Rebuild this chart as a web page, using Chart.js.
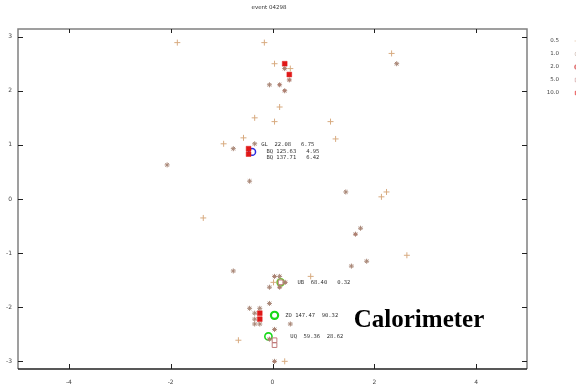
<!DOCTYPE html>
<html><head><meta charset="utf-8">
<script src="https://cdn.jsdelivr.net/npm/chart.js@4.4.1/dist/chart.umd.min.js"></script>
<style>html,body{margin:0;padding:0;background:#fff;}canvas{display:block;}</style>
</head><body>
<canvas id="c" width="576" height="385"></canvas>
<script>
// ---- data (eta / phi of calorimeter deposits, by energy threshold) ----
const title = "event 04298";
const legendLabels = ["0.5", "1.0", "2.0", "5.0", "10.0"];
const xTicks = [-4, -2, 0, 2, 4];
const yTicks = [-3, -2, -1, 0, 1, 2, 3];

const plusX = [-1.87,-0.16,0.04,0.35,0.14,-0.35,0.04,2.34,1.14,1.24,2.24,2.14,2.64,-0.96,-1.36,-0.57,-0.67,0.24,0.75,0.02];
const plusY = [2.89,2.89,2.50,2.41,1.70,1.50,1.43,2.69,1.43,1.11,0.13,0.04,-1.04,1.02,-0.35,1.13,-2.61,-3.00,-1.43,-1.54];

const starX = [0.24,0.33,-0.06,0.14,0.24,-0.77,-0.35,-0.45,-2.07,-0.77,2.44,1.44,1.73,1.63,1.85,1.55,0.04,0.14,0.25,-0.06,0.14,-0.06,-0.45,-0.25,-0.35,-0.35,-0.35,-0.25,0.35,0.04,-0.06,0.04];
const starY = [2.41,2.20,2.11,2.11,2.00,0.93,1.02,0.33,0.63,-1.33,2.50,0.13,-0.54,-0.65,-1.15,-1.24,-1.43,-1.43,-1.54,-1.63,-1.63,-1.93,-2.02,-2.02,-2.11,-2.22,-2.31,-2.31,-2.31,-2.41,-2.59,-3.00];

const twoX = [0.24,0.33,0.14,0.24,1.63,0.04,0.25,0.14,0.04,-0.06,0.04];
const twoY = [2.41,2.20,2.11,2.00,-0.65,-1.43,-1.54,-1.63,-2.41,-2.59,-3.00];

const fiveX = [0.04,0.04,0.16];
const fiveY = [-2.61,-2.70,-1.54];

const tenX = [0.24,0.33,-0.25,-0.25,-0.47,-0.47];
const tenY = [2.50,2.30,-2.11,-2.22,0.93,0.83];

const jetX = [0.04,-0.08,0.16];
const jetY = [-2.15,-2.54,-1.54];
const jetWidth = [2.2,1.6,1.6];

const muX = [-0.40];
const muY = [0.87];

const labelText = ["GL  22.08   6.75","BQ 125.63   4.95","BQ 137.71   6.42","UB  68.40   0.32","ZO 147.47  90.32","UQ  59.36  28.62"];
const labelX = [-0.22,-0.12,-0.12,0.49,0.25,0.35];
const labelY = [1.00,0.87,0.76,-1.54,-2.15,-2.54];

const caption = "Calorimeter";

// ---- build ----
const pts = (xs, ys) => xs.map((x, i) => ({x: x, y: ys[i]}));

const datasets = [
  {label: legendLabels[0], data: pts(plusX, plusY), pointStyle: 'cross', radius: 3, borderColor: '#d8ab80', borderWidth: 1, backgroundColor: '#d8ab80'},
  {label: legendLabels[1], data: pts(starX, starY), pointStyle: 'star', radius: 2.5, borderColor: '#a88676', borderWidth: 1, backgroundColor: '#a88676'},
  {label: legendLabels[2], data: pts(twoX, twoY), pointStyle: 'circle', radius: 1.2, borderColor: '#d43030', borderWidth: 0.5, backgroundColor: '#d43030'},
  {label: legendLabels[3], data: pts(fiveX, fiveY), pointStyle: 'rect', radius: 3.3, borderColor: '#c07a7a', borderWidth: 1, backgroundColor: 'rgba(0,0,0,0)'},
  {label: legendLabels[4], data: pts(tenX, tenY), pointStyle: 'rect', radius: 3.4, borderColor: '#e01818', borderWidth: 0.5, backgroundColor: '#e01818'},
  {label: 'jets', data: pts(jetX, jetY), pointStyle: 'circle', radius: 3.6, borderColor: ['#18d818','#18d818','#6cc030'], borderWidth: jetWidth, backgroundColor: 'rgba(0,0,0,0)'},
  {label: 'muon', data: pts(muX, muY), pointStyle: 'circle', radius: 3.4, borderColor: '#2a2ae0', borderWidth: 1.5, backgroundColor: 'rgba(0,0,0,0)'}
];

const overlay = {
  id: 'overlay',
  afterDatasetsDraw(chart) {
    const ctx = chart.ctx, a = chart.chartArea;
    const xs = chart.scales.x, ys = chart.scales.y;
    ctx.save();
    // frame
    ctx.lineWidth = 1.5;
    ctx.strokeStyle = '#808080';
    ctx.beginPath();
    ctx.moveTo(a.left, a.bottom); ctx.lineTo(a.left, a.top); ctx.lineTo(a.right, a.top); ctx.lineTo(a.right, a.bottom);
    ctx.stroke();
    ctx.strokeStyle = '#202020';
    ctx.beginPath(); ctx.moveTo(a.left, a.bottom); ctx.lineTo(a.right, a.bottom); ctx.stroke();
    // inward ticks
    ctx.strokeStyle = '#202020'; ctx.lineWidth = 1;
    ctx.beginPath();
    xTicks.forEach(v => {
      const p = Math.round(xs.getPixelForValue(v)) + 0.5;
      ctx.moveTo(p, a.bottom); ctx.lineTo(p, a.bottom - 5);
      ctx.moveTo(p, a.top); ctx.lineTo(p, a.top + 4);
    });
    yTicks.forEach(v => {
      const p = Math.round(ys.getPixelForValue(v)) + 0.5;
      ctx.moveTo(a.left, p); ctx.lineTo(a.left + 5, p);
      ctx.moveTo(a.right, p); ctx.lineTo(a.right - 5, p);
    });
    ctx.stroke();
    // annotation labels
    ctx.fillStyle = '#333';
    ctx.font = '5.5px "DejaVu Sans Mono"';
    ctx.textAlign = 'left'; ctx.textBaseline = 'middle';
    labelText.forEach((t, i) => {
      ctx.fillText(t, xs.getPixelForValue(labelX[i]), ys.getPixelForValue(labelY[i]));
    });
    // title
    ctx.font = '5.5px "DejaVu Sans"';
    ctx.textAlign = 'center';
    ctx.fillText(title, 269, 8);
    // legend
    ctx.textAlign = 'right';
    legendLabels.forEach((t, i) => {
      const y = 41 + i * 13;
      ctx.fillStyle = '#444';
      ctx.fillText(t, 559, y);
      const ds = datasets[i];
      ctx.globalAlpha = 0.5;
      ctx.fillStyle = ds.backgroundColor; ctx.strokeStyle = ds.borderColor; ctx.lineWidth = 1;
      Chart.helpers.drawPoint(ctx, {pointStyle: ds.pointStyle, radius: 2.5, rotation: 0, borderWidth: 1}, 577, y);
      ctx.globalAlpha = 1;
    });
    // caption
    ctx.fillStyle = '#000';
    ctx.font = 'bold 25px "Liberation Serif"';
    ctx.textAlign = 'center'; ctx.textBaseline = 'middle';
    ctx.fillText(caption, 419, 321);
    ctx.restore();
  }
};

new Chart(document.getElementById('c'), {
  type: 'scatter',
  data: {datasets: datasets},
  options: {
    responsive: false,
    animation: false,
    devicePixelRatio: 1,
    layout: {padding: {top: 29, right: 49, left: 0, bottom: 0}},
    plugins: {legend: {display: false}, tooltip: {enabled: false}},
    scales: {
      x: {
        type: 'linear', min: -5, max: 5,
        afterBuildTicks: s => { s.ticks = xTicks.map(v => ({value: v})); },
        afterFit: s => { s.height = 16; },
        grid: {display: false, drawTicks: false},
        border: {display: false},
        ticks: {font: {size: 6, family: 'DejaVu Sans'}, color: '#444', padding: 10, maxRotation: 0, autoSkip: false}
      },
      y: {
        type: 'linear', min: -Math.PI, max: Math.PI,
        afterBuildTicks: s => { s.ticks = yTicks.map(v => ({value: v})); },
        afterFit: s => { s.width = 18; },
        grid: {display: false, drawTicks: false},
        border: {display: false},
        ticks: {font: {size: 6, family: 'DejaVu Sans'}, color: '#444', padding: 6, autoSkip: false}
      }
    }
  },
  plugins: [overlay]
});
</script>
</body></html>
